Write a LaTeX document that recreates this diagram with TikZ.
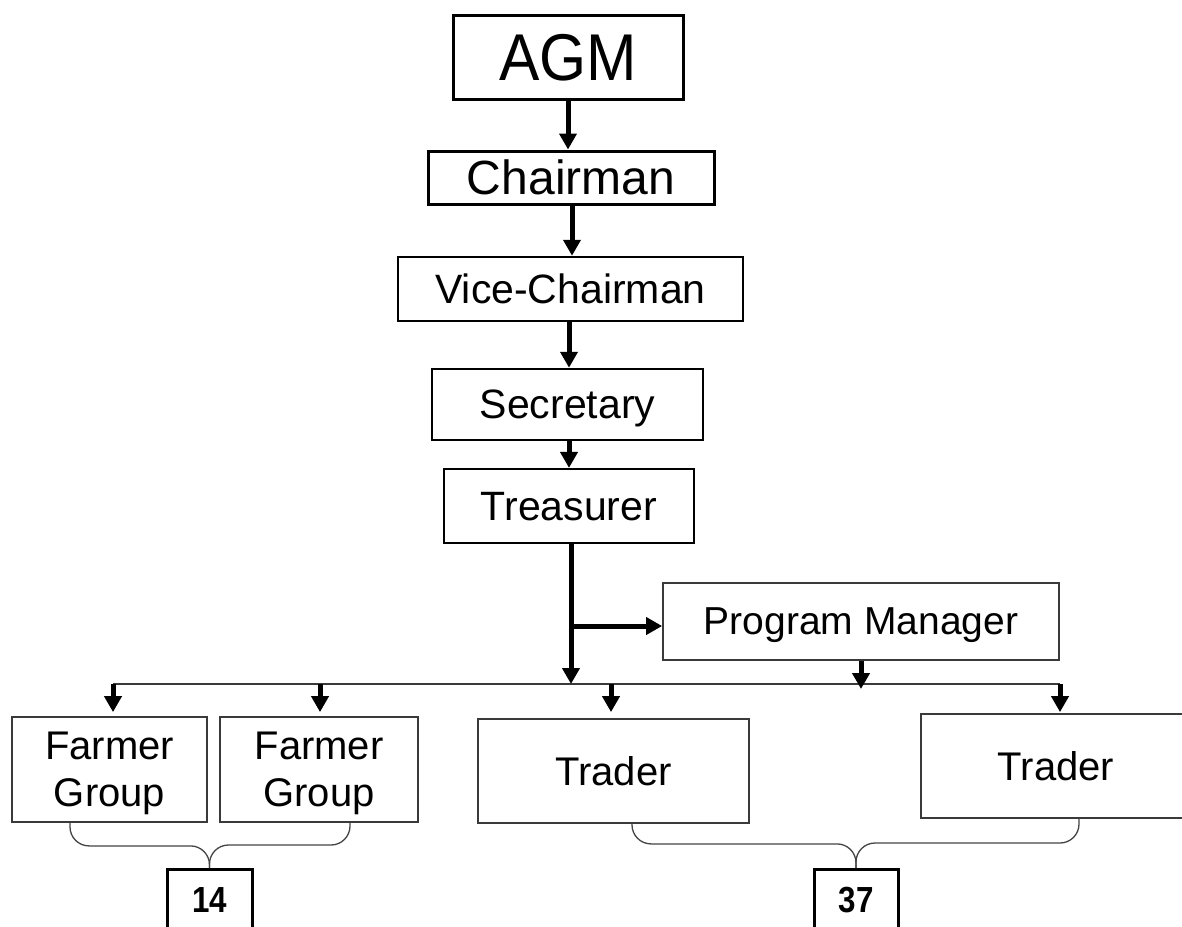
\documentclass[tikz,border=0pt]{standalone}
\usepackage{fontspec}
\setmainfont{Liberation Sans}
\usetikzlibrary{arrows.meta,calc}
\definecolor{edgegray}{HTML}{3A3A3A}
\definecolor{bracegray}{HTML}{444444}
\newcommand{\countlabel}[1]{\scalebox{0.95}[1.1]{#1}}

\begin{document}
\begin{tikzpicture}[x=1pt,y=-1pt,
  box/.style={draw, rectangle, inner sep=0pt, text depth=0pt, align=center},
  topbox/.style={box, draw=black, line width=3pt},
  midbox/.style={box, draw=black, line width=2.5pt},
  lowbox/.style={box, draw=edgegray, line width=1.8pt},
  numbox/.style={draw=black, rectangle, line width=3pt, inner sep=0pt,
                 font=\bfseries\fontsize{33}{38}\selectfont},
  arr/.style={line width=5pt, -{Triangle[length=16pt,width=17pt]}},
  busline/.style={draw=edgegray, line width=2pt},
  brace/.style={draw=bracegray, line width=1.3pt, rounded corners=19pt}
]
\useasboundingbox (0,0) rectangle (1182,926);
\fill[white] (0,0) rectangle (1182,926);
\clip (0,0) rectangle (1182,926);

% management chain
\node[topbox, minimum width=230, minimum height=84,
      font=\fontsize{63}{70}\selectfont] (agm) at (568,57) {\scalebox{0.96}[1.05]{AGM}};
\node[topbox, minimum width=286, minimum height=53,
      font=\fontsize{48}{56}\selectfont] (chair) at (571,177.5) {Chairman};
\node[midbox, minimum width=345, minimum height=64,
      font=\fontsize{41}{48}\selectfont] (vice) at (570.5,289) {Vice-Chairman};
\node[midbox, minimum width=271, minimum height=71,
      font=\fontsize{41}{48}\selectfont] (sec) at (567.5,404.5) {Secretary};
\node[box, line width=2.2pt, minimum width=250, minimum height=74,
      font=\fontsize{41}{48}\selectfont] (tre) at (569,506) {Treasurer};
\node[lowbox, minimum width=396, minimum height=77,
      font=\fontsize{39}{46}\selectfont] (pm) at (861,621.5) {Program Manager};

% groups and traders
\node[lowbox, minimum width=195, minimum height=105,
      font=\fontsize{40}{47}\selectfont] (fg1) at (109.5,769.5) {Farmer\\Group};
\node[lowbox, minimum width=198, minimum height=105,
      font=\fontsize{40}{47}\selectfont] (fg2) at (319,769.5) {Farmer\\Group};
\node[lowbox, minimum width=271, minimum height=104,
      font=\fontsize{40}{47}\selectfont] (tr1) at (613.5,771) {Trader};
\node[lowbox, minimum width=270, minimum height=104,
      font=\fontsize{40}{47}\selectfont] (tr2) at (1056,766) {Trader};

% totals
\node[numbox, anchor=north, minimum width=85, minimum height=61] (n14) at (209.5,868) {\countlabel{14}};
\node[numbox, anchor=north, minimum width=84, minimum height=61] (n37) at (856,868) {\countlabel{37}};

% chain arrows
\draw[arr] (agm.south) -- (agm.south |- chair.north);
\draw[arr] ([xshift=1pt]chair.south) -- ([xshift=1pt]chair.south |- vice.north);
\draw[arr] ([xshift=-1.5pt]vice.south) -- ([xshift=-1.5pt]vice.south |- sec.north);
\draw[arr] ([xshift=1.5pt]sec.south) -- ([xshift=1.5pt]sec.south |- tre.north);

% distribution bus
\coordinate (bus) at (0,684);
\coordinate (busL) at (113,684);
\coordinate (busR) at (1060,684);
\coordinate (bus2) at (320,684);
\coordinate (bus3) at (611,684);
\draw[busline] (busL) -- (busR);

% trunk and branch to the program manager
\coordinate (trunk) at ([xshift=2pt]tre.south);
\coordinate (pmin) at ([yshift=-4.5pt]pm.west);
\draw[arr] (trunk) -- (trunk |- bus);
\draw[arr] (trunk |- pmin) -- (pmin);
\draw[arr] (pm.south) -- ([yshift=-5pt]pm.south |- bus);

% arrows down from the bus
\draw[arr] (busL) -- ([yshift=4pt]busL |- fg1.north);
\draw[arr] (bus2) -- ([yshift=4pt]bus2 |- fg2.north);
\draw[arr] (bus3) -- ([yshift=6pt]bus3 |- tr1.north);
\draw[arr] (busR) -- ([yshift=1pt]busR |- tr2.north);

% braces gathering the counts
\draw[brace] ([xshift=-39.5pt]fg1.south) -- ++(0,23) -| (n14.north);
\draw[brace] (n14.north) -- ++(0,-23) -| ([xshift=31pt]fg2.south);
\draw[brace] ([xshift=18.5pt]tr1.south) -- ++(0,20) -| (n37.north);
\draw[brace] (n37.north) -- ++(0,-25) -| ([xshift=23pt]tr2.south);
\end{tikzpicture}
\end{document}
